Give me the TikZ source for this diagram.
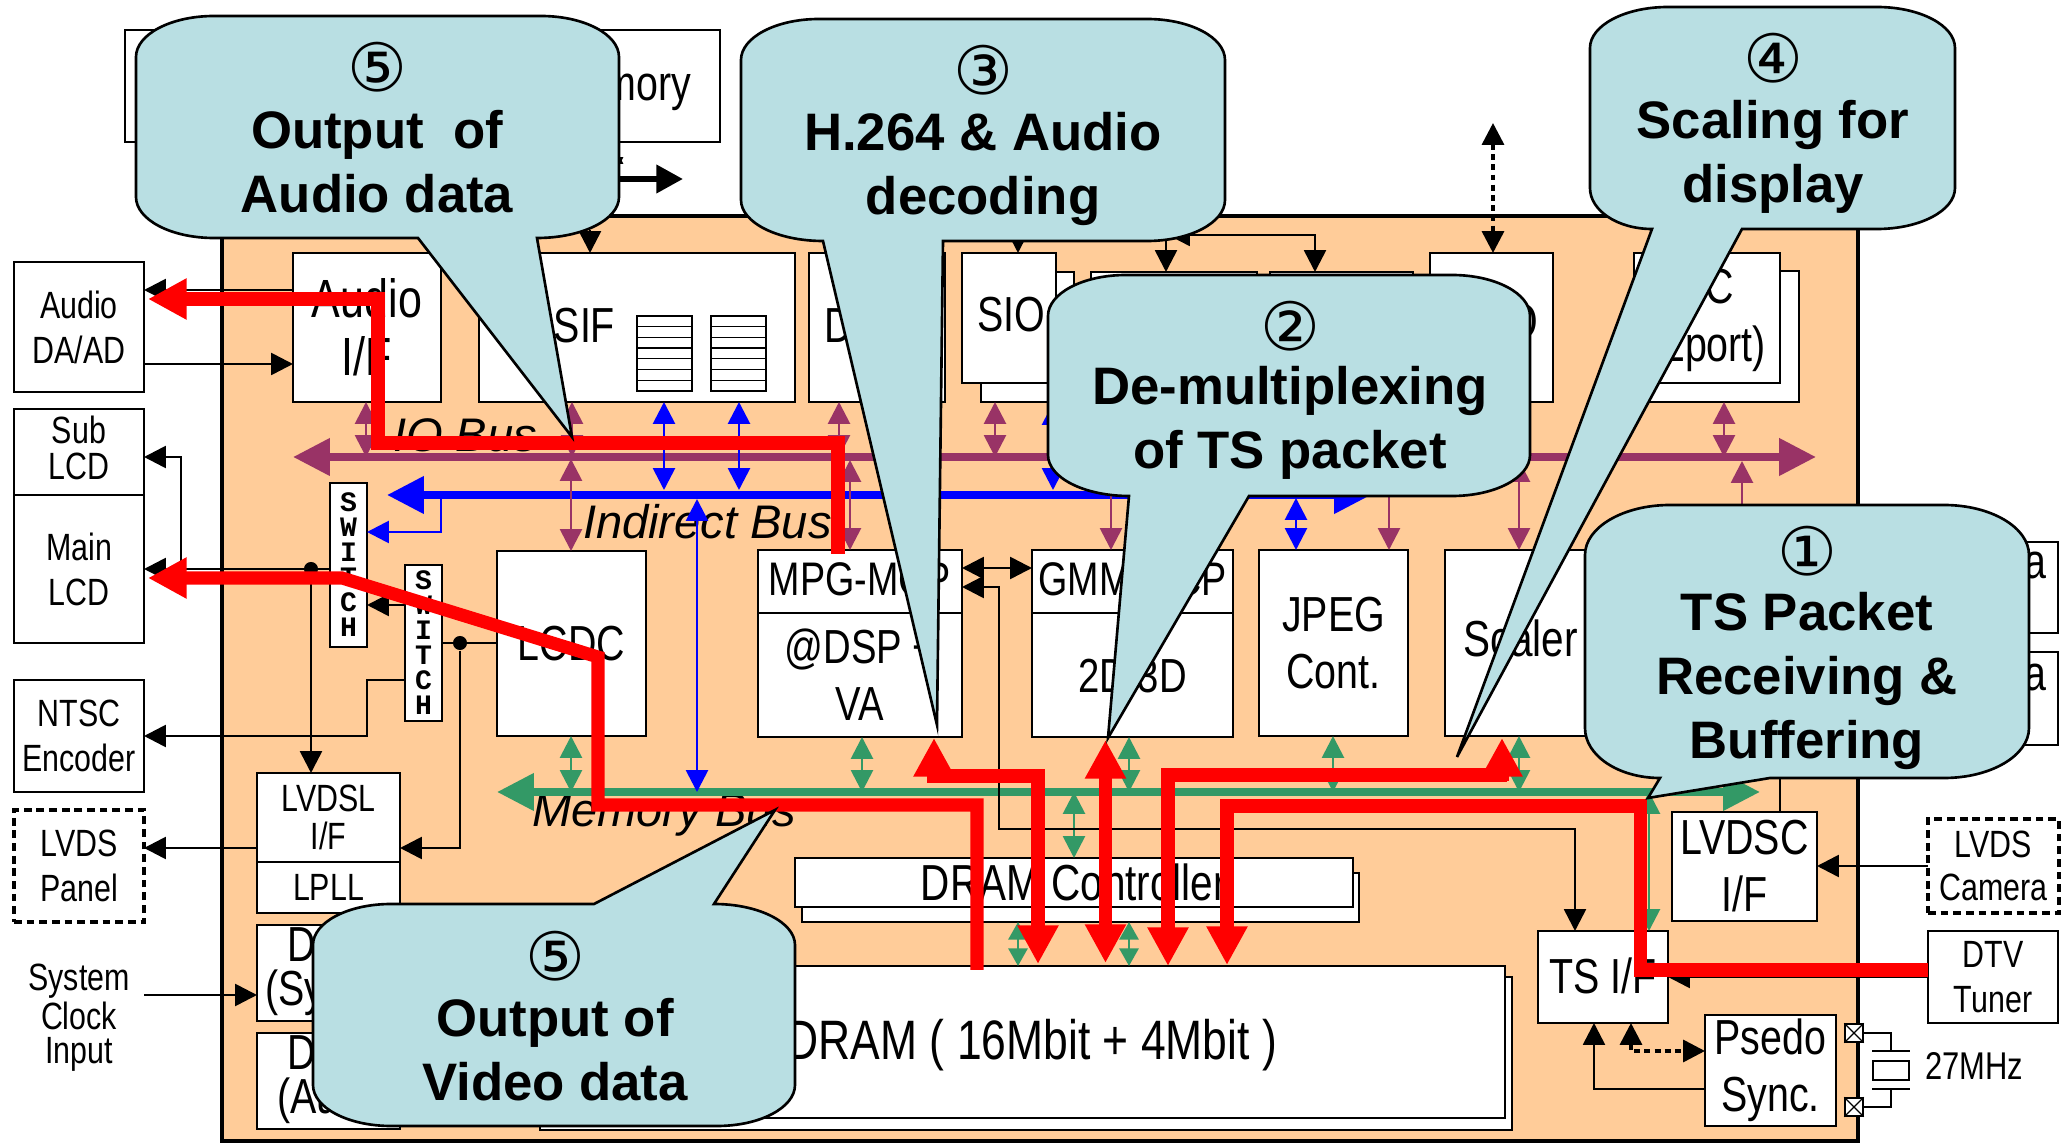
\documentclass[tikz,border=0pt]{standalone}
\usepackage{fontspec}
\setmainfont{Liberation Sans}[FakeStretch=0.8]
\newfontfamily\plainfam{Liberation Sans}
\newfontfamily\circfam{DejaVu Sans}
\setmonofont{Liberation Mono}
\usetikzlibrary{arrows.meta,positioning,calc}

\begin{document}
\begin{tikzpicture}[
  x=0.01cm,y=0.01cm,>={Triangle[length=6.2pt,width=6.2pt]},
  sz/.style 2 args={minimum width=#1*0.01cm, minimum height=#2*0.01cm},
  blk/.style={draw, line width=0.75pt, fill=white, inner sep=0pt, outer sep=0pt, align=center, anchor=north west, font=\fontsize{14}{16.2}\selectfont},
  ext/.style={blk, font=\fontsize{10.8}{12.8}\selectfont},
  dashbox/.style={ext, line width=1pt, dash pattern=on 2.2pt off 1.4pt},
  txt/.style={inner sep=0pt, outer sep=0pt, font=\fontsize{14}{16.2}\selectfont},
  buslab/.style={txt, anchor=base west, font=\plainfam\itshape\fontsize{13.4}{15}\selectfont},
  swbox/.style={blk, align=center, font=\ttfamily\bfseries\fontsize{8}{7.1}\selectfont},
  fifo/.style={draw, line width=0.35pt},
  wire/.style={line width=0.75pt, black},
  dwire/.style={wire, <->, line width=1pt, dash pattern=on 1.7pt off 1.2pt},
  pwire/.style={line width=0.8pt, color=busp},
  bwire/.style={line width=0.8pt, color=busb},
  gwire/.style={line width=0.8pt, color=busg},
  gshort/.style={gwire, {Triangle[length=5pt,width=5.4pt]}-{Triangle[length=5pt,width=5.4pt]}},
  busl/.style={line width=2.2pt, {Triangle[length=10.5pt,width=10.2pt]}-{Triangle[length=10.5pt,width=10.2pt]}},
  redpath/.style={line width=3.7pt, color=red, line join=miter, -{Triangle[length=11pt,width=11pt]}},
  dot/.style={circle, fill=black, inner sep=0pt, minimum size=4pt},
  pad/.style={draw, line width=0.5pt, fill=white, minimum size=5pt, inner sep=0pt},
  callout/.style={draw=black, line width=0.75pt, fill=calloutfill},
  calltxt/.style={inner sep=0pt, align=center, font=\plainfam\bfseries\fontsize{15}{18.2}\selectfont},
  circno/.style={inner sep=0pt, font=\circfam\fontsize{19}{19}\selectfont},
]
\definecolor{chipfill}{HTML}{FFCC99}
\definecolor{calloutfill}{HTML}{B9DFE3}
\definecolor{busp}{HTML}{993366}
\definecolor{busb}{HTML}{0000FF}
\definecolor{busg}{HTML}{339966}
\useasboundingbox (0,0) rectangle (2071,-1143);
% chip outline
\node[draw, line width=1.4pt, fill=chipfill, anchor=north west, sz={1636}{925}, inner sep=0pt, outer sep=0pt] (chip) at (222,-216) {};
% memory box on top, and what leaves it
\node[blk, sz={595}{112}] (flash) at (125,-30) {};
\node[txt, anchor=base east] (flashtxt) at (691,-101) {Memory};
\coordinate (flashout) at (600,-179);
\draw[line width=1.7pt, -{Triangle[length=7.6pt,width=7.8pt]}] (flashout) -- (683,-179);
\draw[dwire] (612,0 |- flash.south) -- (612,0 |- flashout);
% outside blocks on the left
\node[ext, sz={130}{130}] (dac) at (14,-262) {Audio\\DA/AD};
\node[ext, sz={130}{86}, text depth=2.2pt, font=\fontsize{10.8}{10.2}\selectfont] (sublcd) at (14,-409) {Sub\\LCD};
\node[ext, sz={130}{148}, below=0pt of sublcd] (mainlcd) {Main\\LCD};
\node[ext, sz={130}{112}] (ntsc) at (14,-680) {NTSC\\Encoder};
\node[dashbox, sz={130}{112}] (lvdsp) at (14,-810) {LVDS\\Panel};
\node[txt, align=center, font=\fontsize{10.8}{9.7}\selectfont] (sysclk) at (79,-1018) {System\\Clock\\Input};
% top row
\node[blk, sz={148}{149}, font=\fontsize{15.3}{16.6}\selectfont] (audioif) at (293,-253) {Audio\\I/F};
\node[blk, sz={316}{149}] (vsif) at (479,-253) {};
\node[txt, anchor=base east] (vsiftxt) at (615,-343) {ISIF};
\foreach \fx in {637,711}{
  \draw[fifo] (\fx,-316) rectangle ++(55,-75);
  \foreach \fy in {1,...,6} \draw[fifo] (\fx,-316-10.7*\fy) -- ++(55,0);
}
\node[blk, sz={136}{149}] (dbox) at (809,-253) {};
\node[txt, anchor=base west] (dtxt) at (824,-343) {D};
\node[blk, sz={93}{130}] (sioback) at (981,-272) {};
\node[blk, sz={94}{130}] (sio) at (962,-253) {};
\node[txt, anchor=base west] (siotxt) at (977,-332) {SIO};
\node[blk, sz={166}{130}] (upa) at (1091,-272) {};
\node[blk, sz={143}{130}] (upb) at (1270,-272) {};
\node[blk, sz={123}{149}] (gpbox) at (1430,-253) {};
\node[txt, anchor=base east] (gptxt) at (1538,-339) {O};
\node[blk, sz={149}{131}] (rtcback) at (1650,-271) {};
\node[blk, sz={146}{130}] (rtc) at (1634,-253) {};
\node[txt, anchor=base east] (rtca) at (1734,-304) {I2C};
\node[txt, anchor=base east] (rtcb) at (1766,-362) {(2port)};
% display path
\node[swbox, sz={37}{164}] (swa) at (330,-483) {S\\W\\I\\T\\C\\H};
\node[swbox, sz={37}{156}] (swb) at (405,-565) {S\\W\\I\\T\\C\\H};
\node[blk, sz={149}{185}] (lcdc) at (497,-551) {LCDC};
\node[blk, sz={143}{89}, font=\fontsize{10.8}{10.8}\selectfont] (lvdsl) at (257,-773) {LVDSL\\I/F};
\node[blk, sz={143}{51}, below=0pt of lvdsl, font=\fontsize{10.8}{10.8}\selectfont] (lpll) {LPLL};
\node[blk, sz={143}{96}] (dsys) at (257,-925) {};
\node[txt, anchor=base west] (dsysa) at (287,-962) {D};
\node[txt, anchor=base west] (dsysb) at (265,-1006) {(Sy};
\node[blk, sz={143}{96}] (daud) at (257,-1033) {};
\node[txt, anchor=base west] (dauda) at (287,-1070) {D};
\node[txt, anchor=base west] (daudb) at (277,-1114) {(Au};
% decoders
\node[blk, sz={204}{63}, text depth=1.4pt, font=\fontsize{13.4}{16}\selectfont] (mpg) at (758,-550) {MPG-MCP};
\node[blk, sz={204}{124}, font=\fontsize{13.6}{16.2}\selectfont] (dsp) at (758,-613) {@DSP +\\VA};
\node[blk, sz={201}{63}, text depth=1.4pt, font=\fontsize{13.4}{16}\selectfont] (gmm) at (1032,-550) {GMM-MCP};
\node[blk, sz={201}{124}, below=0pt of gmm, font=\fontsize{13.6}{16.2}\selectfont] (twod) {2D/3D};
\node[blk, sz={149}{186}] (jpeg) at (1259,-550) {JPEG\\Cont.};
\node[blk, sz={155}{186}] (scaler) at (1445,-550) {};
\node[txt, anchor=base west, font=\fontsize{14.4}{16}\selectfont] (scalertxt) at (1463,-657) {Scaler};
\node[blk, sz={108}{91}] (cama) at (1950,-542) {};
\node[txt, anchor=base east] (camatxt) at (2046,-579) {a};
\node[blk, sz={108}{93}] (camb) at (1950,-652) {};
\node[txt, anchor=base east] (cambtxt) at (2046,-691) {a};
% memory
\node[blk, sz={557}{49}] (dctlback) at (802,-873) {};
\node[blk, sz={558}{49}, font=\fontsize{14.4}{16}\selectfont] (dctl) at (795,-858) {DRAM Controller};
\node[blk, sz={972}{153}] (dramback) at (540,-977) {};
\node[blk, sz={965}{152}] (dram) at (540,-966) {};
\node[txt, anchor=base east, font=\fontsize{15.8}{18}\selectfont] (dramtxt) at (1277,-1060) {DRAM ( 16Mbit + 4Mbit )};
% inputs on the right
\node[blk, sz={130}{92}, text depth=1pt] (tsif) at (1538,-931) {TS I/F};
\node[blk, sz={145}{109}] (lvdsc) at (1672,-812) {LVDSC\\I/F};
\node[dashbox, sz={131}{94}, font=\fontsize{10.8}{12.2}\selectfont] (lvdscam) at (1928,-819) {LVDS\\Camera};
\node[ext, sz={130}{92}] (dtv) at (1928,-931) {DTV\\Tuner};
\node[blk, sz={131}{111}] (psedo) at (1705,-1015) {Psedo\\Sync.};
\node[txt, anchor=base west, font=\fontsize{11}{12}\selectfont] (xtal) at (1925,-1080) {27MHz};
% crystal
\node[pad] (pada) at (1854,-1033) {};
\node[pad] (padb) at (1854,-1107) {};
\draw[line width=0.35pt] (pada.north west) -- (pada.south east) (pada.north east) -- (pada.south west);
\draw[line width=0.35pt] (padb.north west) -- (padb.south east) (padb.north east) -- (padb.south west);
\draw[line width=0.5pt] (pada.east) -| (1891,-1051) (1872,-1051) -- (1910,-1051) (1873,-1061) rectangle (1909,-1080) (1872,-1089) -- (1910,-1089) (1891,-1089) |- (padb.east);
% bus labels
\node[buslab] (iolab) at (393,-452) {IO Bus};
\node[buslab] (indlab) at (583,-539) {Indirect Bus};
\node[buslab] (memlab) at (532,-827) {Memory Bus};
% buses
\coordinate (iobus) at (293,-457);
\coordinate (iobusr) at (1816,-457);
\coordinate (indbus) at (387,-495);
\coordinate (indbusr) at (1371,-495);
\coordinate (membus) at (497,-792);
\coordinate (membusr) at (1760,-792);
\draw[busl, color=busp] (iobus) -- (iobusr);
\draw[busl, color=busb] (indbus) -- (indbusr);
\draw[busl, color=busg] (membus) -- (membusr);
% io bus taps
\draw[pwire, <->] (366,0 |- audioif.south) -- (366,0 |- iobus);
\draw[pwire, <->] (572,0 |- vsif.south) -- (572,0 |- iobus);
\draw[pwire, <->] (839,0 |- dbox.south) -- (839,0 |- iobus);
\draw[pwire, <->] (995,0 |- sioback.south) -- (995,0 |- iobus);
\draw[pwire, <->] (1724,0 |- rtcback.south) -- (1724,0 |- iobus);
\draw[pwire, <->] (571,0 |- lcdc.north) -- (571,-459);
\draw[pwire, <->] (850,0 |- mpg.north) -- (850,-460);
\draw[pwire, <->] (1111,0 |- gmm.north) -- (1111,-460);
\draw[pwire, <->] (1389,0 |- jpeg.north) -- (1389,-460);
\draw[pwire, <->] (1519,0 |- scaler.north) -- (1519,-460);
\draw[pwire, ->] (1742,-510) -- (1742,-461);
% indirect bus taps
\draw[bwire, <->] (664,0 |- vsif.south) -- (664,-490);
\draw[bwire, <->] (739,0 |- vsif.south) -- (739,-490);
\draw[bwire, <->] (1053,-403) -- (1053,-490);
\draw[bwire, <->] (1296,0 |- jpeg.north) -- (1296,-498);
\draw[bwire, <->] (697,-499) -- (697,0 |- membus);
\draw[bwire, ->] (441,0 |- indbus) |- (swa.east |- 0,-532);
% memory bus taps
\draw[gwire, <->] (571,0 |- lcdc.south) -- (571,0 |- membus);
\draw[gwire, <->] (862,0 |- dsp.south) -- (862,0 |- membus);
\draw[gwire, <->] (1129,0 |- twod.south) -- (1129,0 |- membus);
\draw[gwire, <->] (1333,0 |- jpeg.south) -- (1333,0 |- membus);
\draw[gwire, <->] (1519,0 |- scaler.south) -- (1519,0 |- membus);
\draw[gwire, <->] (1074,0 |- membus) -- (1074,0 |- dctl.north);
\draw[gshort] (1018,0 |- dctlback.south) -- (1018,0 |- dram.north);
\draw[gshort] (1129,0 |- dctlback.south) -- (1129,0 |- dram.north);
\draw[gwire, <->] (1649,0 |- membus) -- (1649,0 |- tsif.north);
% black wires, left side
\draw[wire, ->] (audioif.west |- 0,-290) -- (dac.east |- 0,-290);
\draw[wire, ->] (dac.east |- 0,-364) -- (audioif.west |- 0,-364);
\draw[wire, ->] (swa.west |- 0,-569) -- (mainlcd.east |- 0,-569);
\draw[wire, ->] (181,-569) |- (sublcd.east |- 0,-457);
\node[dot] (dota) at (311,-569) {};
\draw[wire, ->] (dota) -- (311,0 |- lvdsl.north);
\draw[wire, ->] (swb.west |- 0,-605) -- (swa.east |- 0,-605);
\draw[wire] (lcdc.west |- 0,-643) -- (swb.east |- 0,-643);
\node[dot] (dotb) at (460,-643) {};
\draw[wire, ->] (dotb) |- (lvdsl.east |- 0,-848);
\draw[wire, ->] (swb.west |- 0,-680) -| (367,-736) -- (ntsc.east |- 0,-736);
\draw[wire, ->] (lvdsl.west |- 0,-848) -- (lvdsp.east |- 0,-848);
\draw[wire, ->] (144,-995) -- (dsys.west |- 0,-995);
% black wires, top side
\draw[wire, ->] (590,-230) -- (590,0 |- vsif.north);
\draw[wire, ->] (1018,-230) -- (1018,0 |- sio.north);
\draw[wire, ->] (1166,-230) -- (1166,0 |- upa.north);
\draw[wire, <->] (1168,-235) -| (1315,0 |- upb.north);
\draw[dwire] (1493,-123) -- (1493,0 |- gpbox.north);
% black wires, decoders and inputs
\draw[wire, <->] (mpg.east |- 0,-568) -- (gmm.west |- 0,-568);
\draw[wire, <->] (mpg.east |- 0,-587) -| (999,-829) -| (1575,0 |- tsif.north);
\draw[wire] (1780,-770) -- (1780,0 |- lvdsc.north);
\draw[wire, ->] (lvdscam.west |- 0,-866) -- (lvdsc.east |- 0,-866);
\draw[wire, ->] (dtv.west |- 0,-977) -- (tsif.east |- 0,-977);
\draw[wire, ->] (psedo.west |- 0,-1089) -| (1594,0 |- tsif.south);
\draw[dwire] (1631,0 |- tsif.south) |- (psedo.west |- 0,-1051);
% data flow in red
\draw[redpath] (838,-554) -- (838,-443) -- (378,-443) -- (378,-299) -- (148,-299);
\draw[redpath] (977,-970) -- (977,-805) -- (598,-805) -- (598,-657) -- (342,-578) -- (148,-578);
\draw[redpath] (dtv.west |- 0,-970) -- (1640,-970) -- (1640,-806) -- (1227,-806) -- (1227,-965);
\draw[redpath] (1507,-775) -- (1168,-775) -- (1168,-966);
\draw[redpath] (1502,-781) -- (1502,-738);
\draw[redpath] (927,-776) -- (1038,-776) -- (1038,-964);
\draw[redpath] (934,-781) -- (934,-738);
\draw[redpath, {Triangle[length=11pt,width=11pt]}-{Triangle[length=11pt,width=11pt]}] (1105.5,-740) -- (1105.5,-963);
% callouts
\draw[callout] (214,-16) -- (541,-16) arc[start angle=90,end angle=0,x radius=78,y radius=41] -- (619,-197) arc[start angle=0,end angle=-90,x radius=82,y radius=41] -- (572,-437) -- (418,-238) -- (214,-238) arc[start angle=270,end angle=180,x radius=78,y radius=41] -- (136,-57) arc[start angle=180,end angle=90,x radius=78,y radius=41] -- cycle;
\node[circno] (numaudio) at (377,-67) {⑤};
\node[calltxt] (callaudio) at (377,-162) {Output\ \ of\\Audio data};
\draw[callout] (819,-19) -- (1147,-19) arc[start angle=90,end angle=0,x radius=78,y radius=41] -- (1225,-200) arc[start angle=0,end angle=-90,x radius=78,y radius=41] -- (943,-241) -- (937,-725) -- (823,-241) arc[start angle=270,end angle=180,x radius=82,y radius=41] -- (741,-60) arc[start angle=180,end angle=90,x radius=78,y radius=41] -- cycle;
\node[circno] (numdec) at (983,-70) {③};
\node[calltxt] (calldec) at (983,-169) {H.264 \& Audio\\decoding};
\draw[callout] (1126,-275) -- (1452,-275) arc[start angle=90,end angle=0,x radius=78,y radius=41] -- (1530,-455) arc[start angle=0,end angle=-90,x radius=78,y radius=41] -- (1249,-496) -- (1108,-738) -- (1129,-496) arc[start angle=270,end angle=180,x radius=81,y radius=41] -- (1048,-316) arc[start angle=180,end angle=90,x radius=78,y radius=41] -- cycle;
\node[circno] (numdemux) at (1290,-326) {②};
\node[calltxt] (calldemux) at (1290,-423) {De-multiplexing\\of TS packet};
\draw[callout] (1668,-7) -- (1877,-7) arc[start angle=90,end angle=0,x radius=78,y radius=41] -- (1955,-188) arc[start angle=0,end angle=-90,x radius=78,y radius=41] -- (1742,-229) -- (1457,-757) -- (1652,-229) arc[start angle=270,end angle=180,x radius=62,y radius=41] -- (1590,-48) arc[start angle=180,end angle=90,x radius=78,y radius=41] -- cycle;
\node[circno] (numscale) at (1773,-58) {④};
\node[calltxt] (callscale) at (1773,-157) {Scaling for\\display};
\draw[callout] (1670,-505) -- (1944,-505) arc[start angle=90,end angle=0,x radius=85,y radius=50] -- (2029,-728) arc[start angle=0,end angle=-90,x radius=85,y radius=50] -- (1770,-778) -- (1648,-798) -- (1660,-778) arc[start angle=270,end angle=180,x radius=75,y radius=50] -- (1585,-555) arc[start angle=180,end angle=90,x radius=85,y radius=50] -- cycle;
\node[circno] (numts) at (1807,-551) {①};
\node[calltxt] (callts) at (1807,-681) {TS Packet\\Receiving \&\\Buffering};
\draw[callout] (391,-904) -- (594,-904) -- (775,-810) -- (714,-904) arc[start angle=90,end angle=0,x radius=81,y radius=41] -- (795,-1085) arc[start angle=0,end angle=-90,x radius=78,y radius=41] -- (391,-1126) arc[start angle=270,end angle=180,x radius=78,y radius=41] -- (313,-945) arc[start angle=180,end angle=90,x radius=78,y radius=41] -- cycle;
\node[circno] (numvideo) at (555,-956) {⑤};
\node[calltxt] (callvideo) at (555,-1050) {Output of\\Video data};
\end{tikzpicture}
\end{document}
